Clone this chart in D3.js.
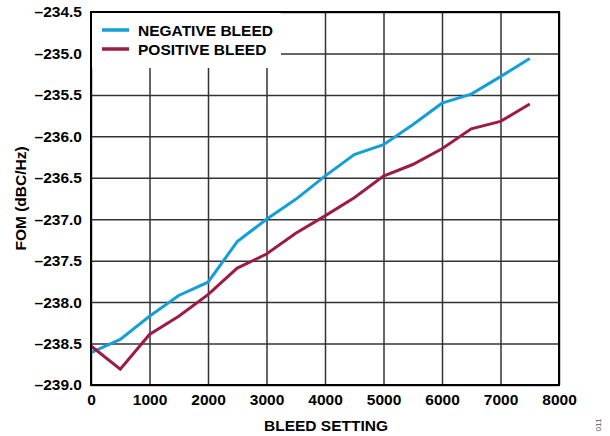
<!DOCTYPE html>
<html>
<head>
<meta charset="utf-8">
<script src="https://cdn.jsdelivr.net/npm/d3@7"></script>
<style>
  html, body { margin: 0; padding: 0; background: #fff; }
  svg { display: block; font-family: "Liberation Sans", Arial, sans-serif; }
</style>
</head>
<body>
<svg id="chart" width="610" height="436"></svg>
<script>
// Bleed setting sweep and measured figure of merit
const bleedSetting = [0, 500, 1000, 1500, 2000, 2500, 3000, 3500, 4000, 4500, 5000, 5500, 6000, 6500, 7000, 7500];
const negativeBleed = [-238.61, -238.45, -238.17, -237.92, -237.76, -237.27, -237.0, -236.76, -236.48, -236.22, -236.10, -235.86, -235.60, -235.49, -235.28, -235.06];
const positiveBleed = [-238.53, -238.81, -238.39, -238.17, -237.91, -237.59, -237.42, -237.17, -236.96, -236.74, -236.48, -236.34, -236.15, -235.91, -235.82, -235.61];

const xTicks = [0, 1000, 2000, 3000, 4000, 5000, 6000, 7000, 8000];
const yTicks = [-239.0, -238.5, -238.0, -237.5, -237.0, -236.5, -236.0, -235.5, -235.0, -234.5];

const seriesNames = ["NEGATIVE BLEED", "POSITIVE BLEED"];
const seriesColors = ["#159fd6", "#9c1c47"];

const margin = { left: 91, top: 12, right: 51, bottom: 51 };
const W = 610, H = 436;
const iw = W - margin.left - margin.right;
const ih = H - margin.top - margin.bottom;

const svg = d3.select("#chart");
const g = svg.append("g").attr("transform", `translate(${margin.left},${margin.top})`);

const x = d3.scaleLinear().domain([0, 8000]).range([0, iw]);
const y = d3.scaleLinear().domain([-239.0, -234.5]).range([ih, 0]);

const fmtY = v => d3.format(".1f")(v).replace("-", "\u2013").replace("\u2212", "\u2013");

// grid lines
g.append("g")
  .attr("class", "grid-x")
  .call(d3.axisBottom(x).tickValues(xTicks).tickSize(-ih).tickFormat(""))
  .attr("transform", `translate(0,${ih})`)
  .call(s => s.select(".domain").remove())
  .call(s => s.selectAll("line").attr("stroke", "#333").attr("stroke-width", 1.5));

g.append("g")
  .attr("class", "grid-y")
  .call(d3.axisLeft(y).tickValues(yTicks).tickSize(-iw).tickFormat(""))
  .call(s => s.select(".domain").remove())
  .call(s => s.selectAll("line").attr("stroke", "#333").attr("stroke-width", 1.5));

// legend backdrop hides the grid behind it
g.append("rect").attr("x", 0).attr("y", 0).attr("width", 190).attr("height", 56).attr("fill", "#fff");

// data lines
const series = [negativeBleed, positiveBleed];
const line = d3.line().x((d, i) => x(bleedSetting[i])).y(d => y(d));
series.forEach((vals, k) => {
  g.append("path")
    .datum(vals)
    .attr("fill", "none")
    .attr("stroke", seriesColors[k])
    .attr("stroke-width", 3)
    .attr("stroke-linejoin", "miter")
    .attr("d", line);
});

// frame
g.append("rect").attr("x", 0).attr("y", 0).attr("width", iw).attr("height", ih)
  .attr("fill", "none").attr("stroke", "#000").attr("stroke-width", 2);

// axes labels
const xAxis = g.append("g").attr("transform", `translate(0,${ih})`)
  .call(d3.axisBottom(x).tickValues(xTicks).tickSize(0).tickPadding(9).tickFormat(d3.format("d")));
xAxis.select(".domain").remove();
xAxis.selectAll("text").attr("font-size", 15.5).attr("font-weight", "bold").attr("fill", "#000")
  .attr("font-family", "Liberation Sans, Arial, sans-serif");

const yAxis = g.append("g")
  .call(d3.axisLeft(y).tickValues(yTicks).tickSize(0).tickPadding(9).tickFormat(fmtY));
yAxis.select(".domain").remove();
yAxis.selectAll("text").attr("font-size", 15.5).attr("font-weight", "bold").attr("fill", "#000")
  .attr("font-family", "Liberation Sans, Arial, sans-serif");

// axis titles
svg.append("text").attr("x", margin.left + iw / 2 + 1).attr("y", 431)
  .attr("text-anchor", "middle").attr("font-size", 15.5).attr("font-weight", "bold")
  .text("BLEED SETTING");

svg.append("text").attr("transform", `translate(26,${margin.top + ih / 2}) rotate(-90)`)
  .attr("text-anchor", "middle").attr("font-size", 15.5).attr("font-weight", "bold")
  .text("FOM (dBC/Hz)");

// figure number
svg.append("text").attr("transform", "translate(601,425) rotate(-90)")
  .attr("text-anchor", "middle").attr("font-size", 8).attr("fill", "#555")
  .text("011");

// legend
const legend = g.append("g").attr("transform", "translate(11,18)");
seriesNames.forEach((name, k) => {
  const row = legend.append("g").attr("transform", `translate(0,${k * 19})`);
  row.append("line").attr("x1", 0).attr("x2", 27).attr("y1", 0).attr("y2", 0)
    .attr("stroke", seriesColors[k]).attr("stroke-width", 3.5);
  row.append("text").attr("x", 36).attr("y", 6).attr("font-size", 15.5).attr("font-weight", "bold")
    .text(name);
});
</script>
</body>
</html>
